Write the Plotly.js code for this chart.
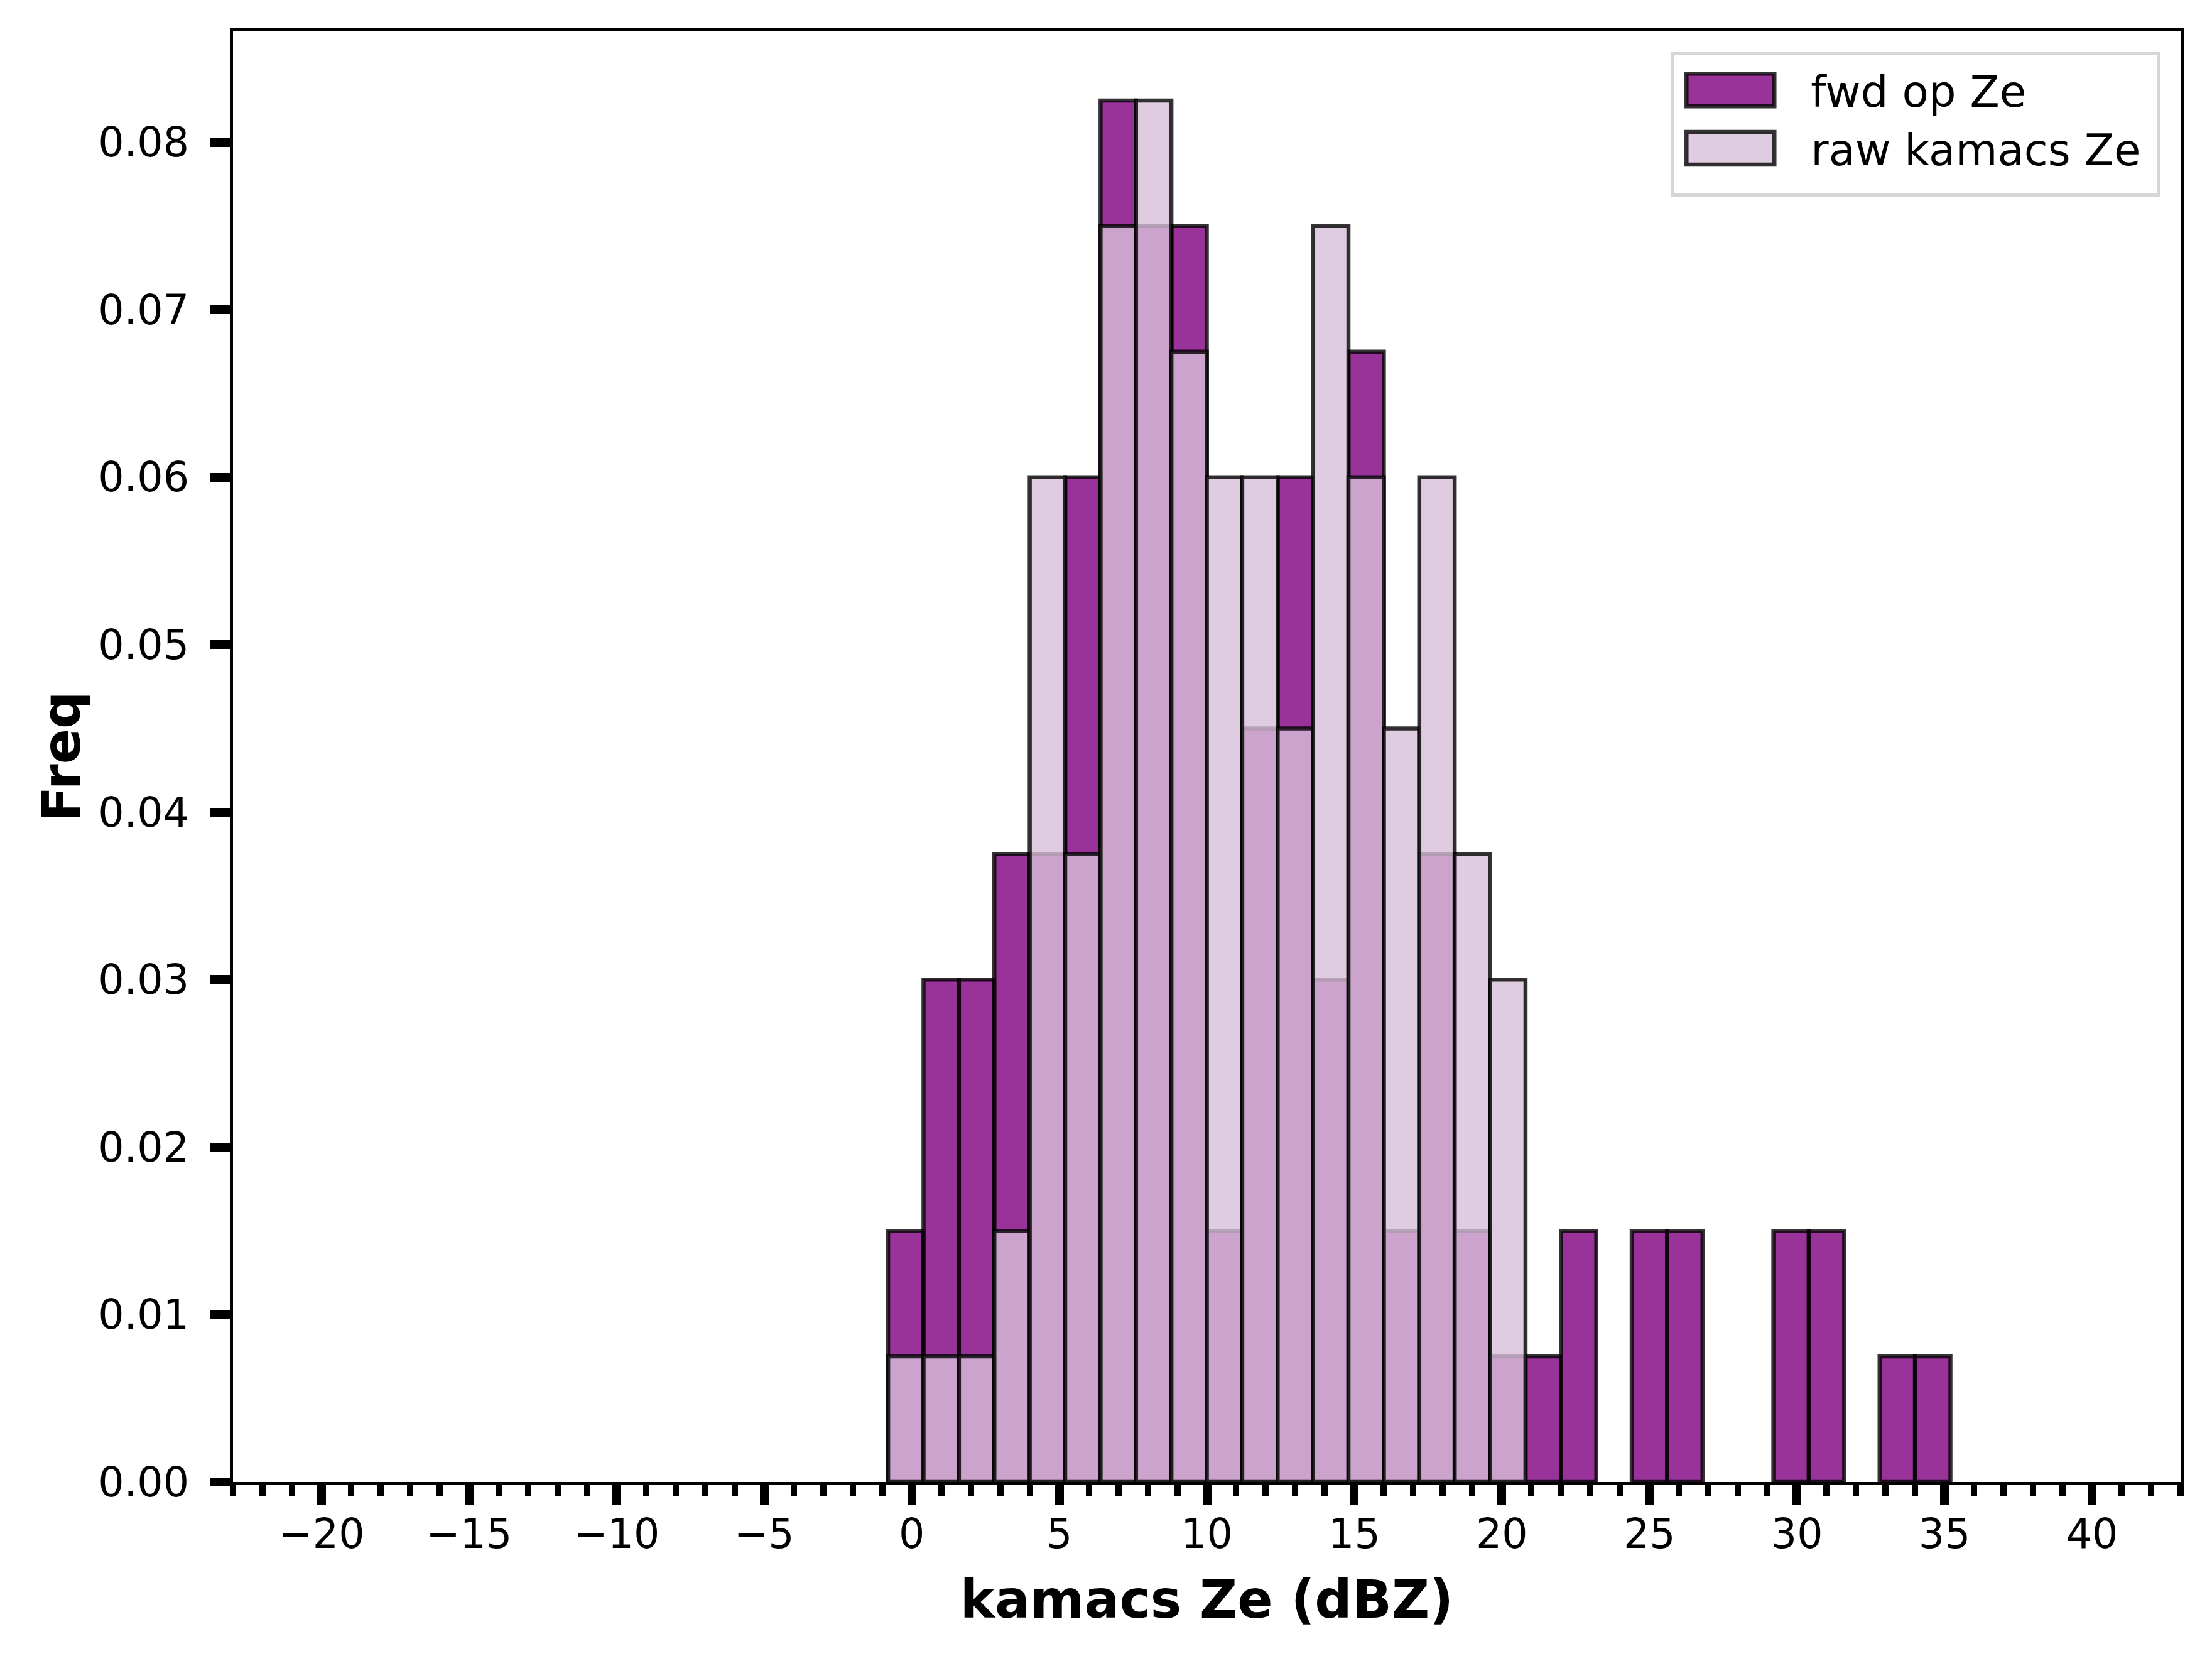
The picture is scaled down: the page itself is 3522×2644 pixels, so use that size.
<!DOCTYPE html>
<html>
<head>
<meta charset="utf-8">
<script src="https://cdn.plot.ly/plotly-3.0.1.min.js"></script>
<style>html,body{margin:0;padding:0;background:#fff}</style>
</head>
<body>
<div id="chart" style="width:3522px;height:2644px"></div>
<script>
// histogram bins (dBZ)
const binStart = -0.8;
const binWidth = 1.2;

// normalised frequency per bin
const fwdOpZe = [0.015, 0.03, 0.03, 0.0375, 0.0375, 0.06, 0.0825, 0.075, 0.075, 0.015,
  0.045, 0.06, 0.03, 0.0675, 0.015, 0.0375, 0.015, 0.0075, 0.0075, 0.015,
  0, 0.015, 0.015, 0, 0, 0.015, 0.015, 0, 0.0075, 0.0075];
const rawKamacsZe = [0.0075, 0.0075, 0.0075, 0.015, 0.06, 0.0375, 0.075, 0.0825, 0.0675, 0.06,
  0.06, 0.045, 0.075, 0.06, 0.045, 0.06, 0.0375, 0.03, 0, 0,
  0, 0, 0, 0, 0, 0, 0, 0, 0, 0];

const seriesNames = ['fwd op Ze', 'raw kamacs Ze'];
const xLabel = 'kamacs Ze (dBZ)';
const yLabel = 'Freq';

const binCenters = fwdOpZe.map((_, i) => binStart + binWidth * (i + 0.5));
// empty bins: leave them out instead of drawing a flat outline on the axis
const noEmpty = v => (v === 0 ? null : v);

const FONT = 'DejaVu Sans, Verdana, sans-serif';
const edge = {color: 'rgba(0,0,0,0.8)', width: 6.5};

const traces = [
  {
    type: 'bar', name: seriesNames[0],
    x: binCenters, y: fwdOpZe.map(noEmpty), width: binWidth,
    marker: {color: 'rgba(128,0,128,0.8)', line: edge}
  },
  {
    type: 'bar', name: seriesNames[1],
    x: binCenters, y: rawKamacsZe.map(noEmpty), width: binWidth,
    marker: {color: 'rgba(216,191,216,0.8)', line: edge}
  }
];

const axisCommon = {
  showline: true, linecolor: '#000', linewidth: 5, mirror: true,
  showgrid: false, zeroline: false,
  ticks: 'outside', ticklen: 32, tickwidth: 14, tickcolor: '#000',
  tickfont: {family: FONT, size: 65, color: '#000'}
};

const layout = {
  width: 3522, height: 2644,
  margin: {l: 371, r: 50, t: 50, b: 285},
  paper_bgcolor: '#fff', plot_bgcolor: '#fff',
  barmode: 'overlay', bargap: 0,
  font: {family: FONT, color: '#000'},
  xaxis: Object.assign({}, axisCommon, {
    range: [-23, 43], tickmode: 'linear', tick0: 0, dtick: 5,
    ticklabelstandoff: -10,
    minor: {ticks: 'outside', tick0: 0, dtick: 1, ticklen: 18, tickwidth: 10, tickcolor: '#000', showgrid: false},
    title: {text: '<b>' + xLabel + '</b>', font: {family: FONT, size: 83}, standoff: 40}
  }),
  yaxis: Object.assign({}, axisCommon, {
    range: [0, 0.086625], tickmode: 'linear', tick0: 0, dtick: 0.01, tickformat: '.2f',
    ticklabelstandoff: 20,
    title: {text: '<b>' + yLabel + '</b>', font: {family: FONT, size: 83}, standoff: 3}
  }),
  legend: {
    x: 0.983, y: 0.984, xanchor: 'right', yanchor: 'top',
    bgcolor: 'rgba(255,255,255,0.8)', bordercolor: 'rgba(204,204,204,0.8)', borderwidth: 5,
    font: {family: FONT, size: 69, color: '#000'},
    itemwidth: 208, tracegroupgap: 0
  },
  showlegend: true
};

Plotly.newPlot('chart', traces, layout, {displayModeBar: false, staticPlot: true})
  .then(gd => {
    // widen the legend patches so they look like matplotlib handles
    gd.querySelectorAll('.legend .legendpoints path').forEach(p => {
      p.setAttribute('d', 'M51,26H-89V-26H51Z');
      p.style.strokeWidth = '6.5px';
    });
    // a little more padding inside the legend frame, right and bottom
    const bg = gd.querySelector('.legend rect.bg');
    if (bg) {
      bg.setAttribute('width', +bg.getAttribute('width') + 20);
      bg.setAttribute('y', +(bg.getAttribute('y') || 0) - 4);
      bg.setAttribute('height', +bg.getAttribute('height') + 24);
    }
  })
  .catch(error => console.error('Error rendering histogram:', error));
</script>
</body>
</html>
